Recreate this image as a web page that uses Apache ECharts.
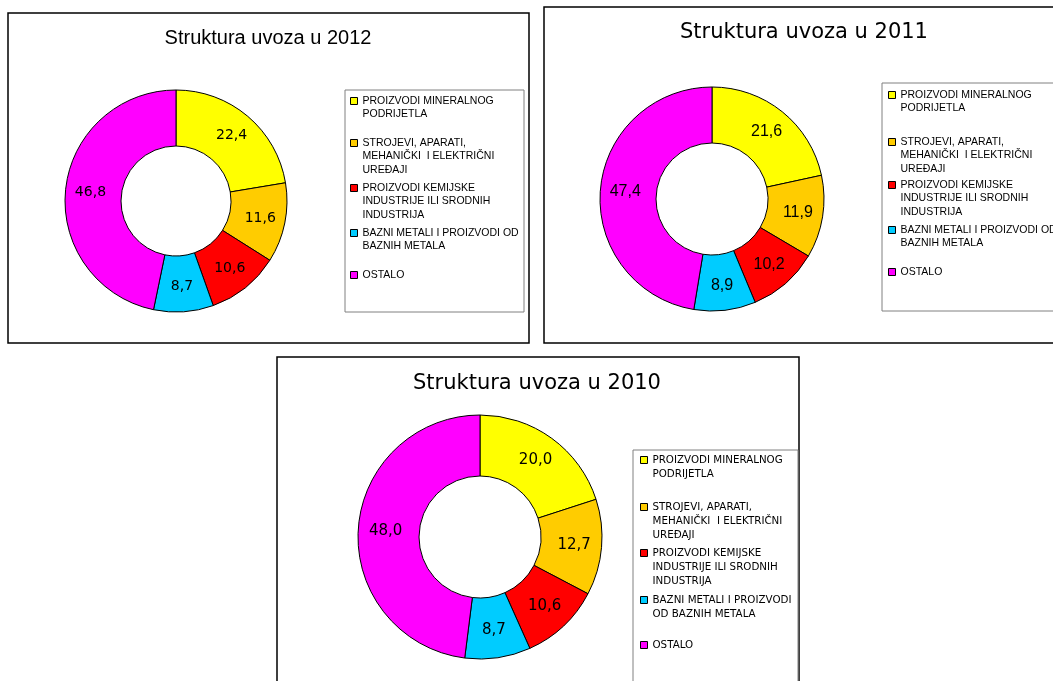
<!DOCTYPE html>
<html>
<head>
<meta charset="utf-8">
<script src="https://cdn.jsdelivr.net/npm/echarts@6/dist/echarts.min.js"></script>
<style>
  html, body { margin: 0; padding: 0; background: #fff; }
  #chart { width: 1053px; height: 681px; }
</style>
</head>
<body>
<div id="chart"></div>
<script>
// categories (series names) and per-year values
var categories = [
  'PROIZVODI MINERALNOG PODRIJETLA',
  'STROJEVI, APARATI, MEHANIČKI I ELEKTRIČNI UREĐAJI',
  'PROIZVODI KEMIJSKE INDUSTRIJE ILI SRODNIH INDUSTRIJA',
  'BAZNI METALI I PROIZVODI OD BAZNIH METALA',
  'OSTALO'
];
var legendText = [
  'PROIZVODI MINERALNOG\nPODRIJETLA',
  'STROJEVI, APARATI,\nMEHANIČKI  I ELEKTRIČNI\nUREĐAJI',
  'PROIZVODI KEMIJSKE\nINDUSTRIJE ILI SRODNIH\nINDUSTRIJA',
  'BAZNI METALI I PROIZVODI OD\nBAZNIH METALA',
  'OSTALO'
];
var legendText2010 = [
  'PROIZVODI MINERALNOG\nPODRIJETLA',
  'STROJEVI, APARATI,\nMEHANIČKI  I ELEKTRIČNI\nUREĐAJI',
  'PROIZVODI KEMIJSKE\nINDUSTRIJE ILI SRODNIH\nINDUSTRIJA',
  'BAZNI METALI I PROIZVODI\nOD BAZNIH METALA',
  'OSTALO'
];
var values2012 = [22.4, 11.6, 10.6, 8.7, 46.8];
var values2011 = [21.6, 11.9, 10.2, 8.9, 47.4];
var values2010 = [20.0, 12.7, 10.6, 8.7, 48.0];
var titles = ['Struktura uvoza u 2012', 'Struktura uvoza u 2011', 'Struktura uvoza u 2010'];
var colors = ['#FFFF00', '#FFCC00', '#FF0000', '#00CCFF', '#FF00FF'];

// layout of the three panels
var panels = [
  { values: values2012, text: legendText, title: titles[0],
    box: [8, 13, 521, 330], titlePos: [268, 38], titleFont: 'Liberation Sans', titleSize: 20,
    center: [176, 201], radius: [55, 111], labelFont: 'DejaVu Sans', labelSize: 14,
    legendBox: [345, 90, 179, 222], legendX: 350, legendY: [101, 143, 188, 233, 275],
    lh: 13.5, legendFont: 'Liberation Sans', legendSize: 10.5 },
  { values: values2011, text: legendText, title: titles[1],
    box: [544, 7, 530, 336], titlePos: [804, 33], titleFont: 'DejaVu Sans', titleSize: 21,
    center: [712, 199], radius: [56, 112], labelFont: 'Liberation Sans', labelSize: 16,
    legendBox: [882, 83, 190, 228], legendX: 888, legendY: [95, 142, 185, 230, 272],
    lh: 13.5, legendFont: 'Liberation Sans', legendSize: 10.5 },
  { values: values2010, text: legendText2010, title: titles[2],
    box: [277, 357, 522, 340], titlePos: [537, 384], titleFont: 'DejaVu Sans', titleSize: 21,
    center: [480, 537], radius: [61, 122], labelFont: 'DejaVu Sans', labelSize: 15,
    legendBox: [633, 450, 165, 240], legendX: 640, legendY: [460, 507, 553, 600, 645],
    lh: 14, legendFont: 'DejaVu Sans', legendSize: 10.3 }
];

var chart = echarts.init(document.getElementById('chart'));

var title = [], series = [], legend = [], graphic = [];

panels.forEach(function (p, pi) {
  // panel frame and legend frame
  graphic.push({
    type: 'rect', z: -10,
    shape: { x: p.box[0], y: p.box[1], width: p.box[2], height: p.box[3] },
    style: { fill: '#fff', stroke: '#000', lineWidth: 1.5 }
  });
  graphic.push({
    type: 'rect', z: -9,
    shape: { x: p.legendBox[0], y: p.legendBox[1], width: p.legendBox[2], height: p.legendBox[3] },
    style: { fill: 'transparent', stroke: '#808080', lineWidth: 1 }
  });

  title.push({
    text: p.title,
    left: p.titlePos[0],
    top: p.titlePos[1],
    textAlign: 'center',
    textVerticalAlign: 'middle',
    padding: 0,
    textStyle: { fontFamily: p.titleFont, fontSize: p.titleSize, fontWeight: 'normal', color: '#000' }
  });

  series.push({
    type: 'pie',
    center: p.center,
    radius: p.radius,
    startAngle: 90,
    clockwise: true,
    animation: false,
    avoidLabelOverlap: false,
    itemStyle: { borderColor: '#000', borderWidth: 1 },
    label: {
      show: true,
      position: 'inside',
      color: '#000',
      fontFamily: p.labelFont,
      fontSize: p.labelSize,
      formatter: function (d) { return d.value.toFixed(1).replace('.', ','); }
    },
    labelLine: { show: false },
    emphasis: { disabled: true },
    data: categories.map(function (c, i) {
      return { name: c, value: p.values[i], itemStyle: { color: colors[i] } };
    })
  });

  // one legend per item so the marker sits on the first line of the text
  categories.forEach(function (c, i) {
    var lines = p.text[i].split('\n');
    var n = lines.length;
    var pad = new Array(n).join('\n');
    legend.push({
      data: [c],
      orient: 'vertical',
      left: p.legendX,
      top: p.legendY[i] - (n - 0.5) * p.lh,
      padding: 0,
      icon: 'rect',
      itemWidth: 7,
      itemHeight: 7,
      selectedMode: false,
      itemStyle: { borderColor: '#000', borderWidth: 1 },
      textStyle: { fontFamily: p.legendFont, fontSize: p.legendSize, lineHeight: p.lh, color: '#000' },
      formatter: function () { return pad + p.text[i]; }
    });
  });
});

chart.setOption({
  backgroundColor: '#fff',
  animation: false,
  title: title,
  legend: legend,
  series: series,
  graphic: graphic
});
</script>
</body>
</html>
